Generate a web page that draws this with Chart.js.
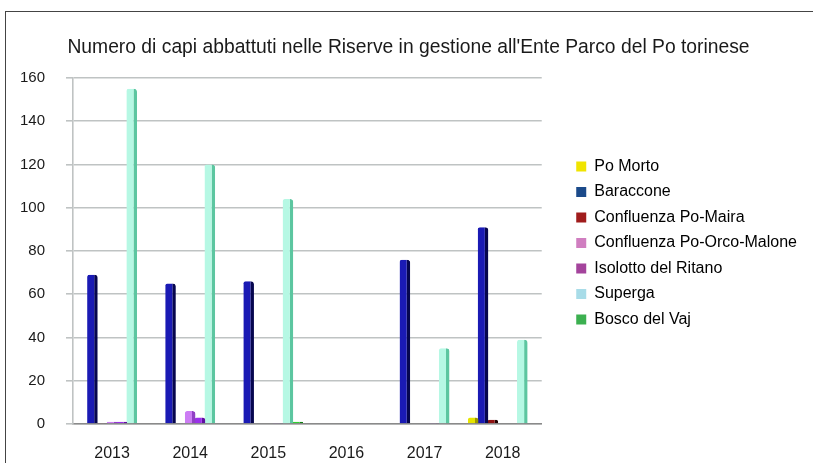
<!DOCTYPE html>
<html>
<head>
<meta charset="utf-8">
<script src="https://cdn.jsdelivr.net/npm/chart.js@4/dist/chart.umd.min.js"></script>
<style>
  html, body { margin: 0; padding: 0; background: #fff; }
  #cornice { position: absolute; left: 5px; top: 11px; width: 808px; height: 452px;
    border-left: 1px solid #444; border-top: 1px solid #444; }
  #contenitore { position: absolute; left: 0; top: 0; width: 813px; height: 463px; }
</style>
</head>
<body>
<div id="cornice"></div>
<div id="contenitore"><canvas id="grafico"></canvas></div>
<script>
// anni
const anni = ["2013", "2014", "2015", "2016", "2017", "2018"];

// capi abbattuti per riserva
const poMorto = [0, 0, 0, 0, 0, 3];
const baraccone = [69, 65, 66, 0, 76, 91];
const confluenzaPoMaira = [0.5, 0, 0, 0, 0, 2];
const confluenzaPoOrcoMalone = [1, 6, 0, 0, 0, 0];
const isolottoRitano = [1, 3, 0.5, 0, 0.5, 0];
const superga = [155, 120, 104, 0, 35, 39];
const boscoVaj = [0, 0, 1, 0, 0, 0];

const tickY = [0, 20, 40, 60, 80, 100, 120, 140, 160];

const serie = [
  { nome: "Po Morto", dati: poMorto, faccia: "#e6e400", lato: "#9a9800", legenda: "#f0e400" },
  { nome: "Baraccone", dati: baraccone, faccia: "#1a1ab4", lato: "#06064e", legenda: "#1b4a8a" },
  { nome: "Confluenza Po-Maira", dati: confluenzaPoMaira, faccia: "#8e1010", lato: "#220000", legenda: "#a01c1c" },
  { nome: "Confluenza Po-Orco-Malone", dati: confluenzaPoOrcoMalone, faccia: "#cc7cf4", lato: "#9040c4", legenda: "#d07ec0" },
  { nome: "Isolotto del Ritano", dati: isolottoRitano, faccia: "#9a30ea", lato: "#6010a0", legenda: "#a4449c" },
  { nome: "Superga", dati: superga, faccia: "#b6f8e4", lato: "#5cc6a0", legenda: "#a8dce8" },
  { nome: "Bosco del Vaj", dati: boscoVaj, faccia: "#30d030", lato: "#108010", legenda: "#3cb050" }
];

// spazio vuoto tra area del grafico e legenda
const spaziatore = {
  id: "spaziatore",
  beforeInit(chart) {
    Chart.layouts.addBox(chart, {
      position: "right",
      weight: 500,
      fullSize: false,
      options: { stackWeight: 1 },
      width: 0,
      height: 0,
      isHorizontal() { return false; },
      update(maxWidth, maxHeight) { this.width = 25; this.height = maxHeight; },
      draw() {}
    });
  }
};

// la legenda non deve essere tagliata a metà larghezza
const legendaLarga = {
  id: "legendaLarga",
  beforeLayout(chart) {
    const leg = chart.legend;
    if (leg && !leg.__larga) {
      const upd = leg.update.bind(leg);
      leg.update = (w, h, m) => upd(300, h, m);
      leg.__larga = true;
    }
  }
};

const famiglia = "'Liberation Sans', Arial, sans-serif";

new Chart(document.getElementById("grafico").getContext("2d"), {
  type: "bar",
  data: {
    labels: anni,
    datasets: serie.map(s => ({
      label: s.nome,
      data: s.dati,
      backgroundColor: s.faccia,
      borderColor: s.lato,
      borderWidth: { top: 0, left: 0, right: 3.5, bottom: 0 },
      borderSkipped: false,
      borderRadius: { topLeft: 2, topRight: 3 },
      categoryPercentage: 0.88,
      barPercentage: 1.08
    }))
  },
  options: {
    responsive: true,
    maintainAspectRatio: false,
    animation: false,
    layout: { padding: { top: 23, left: 10, right: 6, bottom: 0 } },
    scales: {
      x: {
        afterFit: scala => { scala.height = 39; },
        grid: { display: false, drawTicks: false },
        border: { display: true, color: "#8a8a8a", width: 1.5 },
        ticks: { color: "#1a1a1a", font: { family: famiglia, size: 16 }, padding: 20 }
      },
      y: {
        min: 0,
        max: 160,
        afterFit: scala => { scala.width = 63; },
        afterBuildTicks: scala => { scala.ticks = tickY.map(v => ({ value: v })); },
        grid: { color: "#bfc3c3", lineWidth: 1.6, tickLength: 7, tickColor: "#bfc3c3" },
        border: { display: true, color: "#bfc3c3", width: 1.6 },
        ticks: { color: "#1a1a1a", font: { family: famiglia, size: 15 }, padding: 21 }
      }
    },
    plugins: {
      title: {
        display: true,
        text: "Numero di capi abbattuti nelle Riserve in gestione all'Ente Parco del Po torinese",
        color: "#1a1a1a",
        font: { family: famiglia, size: 19.3, weight: "normal" },
        padding: { top: 13.4, bottom: 18.4 }
      },
      legend: {
        position: "right",
        labels: {
          color: "#1a1a1a",
          font: { family: famiglia, size: 16 },
          boxWidth: 10,
          boxHeight: 10,
          padding: 9.5,
          generateLabels: chart => chart.data.datasets.map((d, i) => ({
            text: d.label,
            fillStyle: serie[i].legenda,
            strokeStyle: serie[i].legenda,
            lineWidth: 0,
            hidden: false,
            datasetIndex: i
          }))
        }
      },
      tooltip: { enabled: false }
    }
  },
  plugins: [spaziatore, legendaLarga]
});
</script>
</body>
</html>
